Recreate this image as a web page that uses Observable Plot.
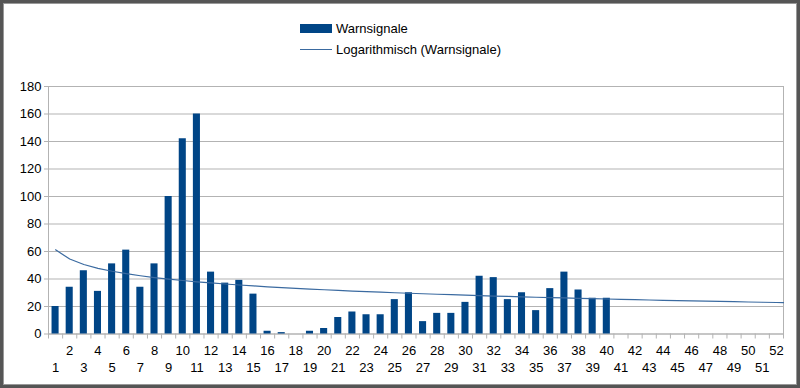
<!DOCTYPE html>
<html>
<head>
<meta charset="utf-8">
<script src="https://cdn.jsdelivr.net/npm/d3@7"></script>
<script src="https://cdn.jsdelivr.net/npm/@observablehq/plot@0.6"></script>
<style>
  html, body { margin: 0; padding: 0; background: #fff; }
  #wrap { position: relative; width: 800px; height: 388px; overflow: hidden; font-family: "Liberation Sans", Arial, sans-serif; }
  #legend { position: relative; width: 800px; height: 70px; }
  .sw-bar { position: absolute; left: 300px; top: 24px; width: 32px; height: 9px; background: #004586; }
  .sw-line { position: absolute; left: 300px; top: 49px; width: 32px; height: 1px; background: #3a6aa0; }
  .lt { position: absolute; left: 336px; font-size: 13px; color: #000; line-height: 13px; }
  #frame { position: absolute; left: 0; top: 0; width: 800px; height: 388px; box-sizing: border-box;
           border: 3px solid #555; box-shadow: inset 0 0 0 1px #999; pointer-events: none; }
  svg { display: block; }
</style>
</head>
<body>
<div id="wrap">
  <div id="legend">
    <div class="sw-bar"></div><div class="lt" style="top:22px">Warnsignale</div>
    <div class="sw-line"></div><div class="lt" style="top:43px">Logarithmisch (Warnsignale)</div>
  </div>
  <div id="chart"></div>
  <div id="frame"></div>
</div>
<script>
// Categories (calendar weeks)
const weeks = [1,2,3,4,5,6,7,8,9,10,11,12,13,14,15,16,17,18,19,20,21,22,23,24,25,26,
               27,28,29,30,31,32,33,34,35,36,37,38,39,40,41,42,43,44,45,46,47,48,49,50,51,52];
// Series values (weeks 1..40)
const warnsignale = [20,34,46,31,51,61,34,51,100,142,160,45,37,39,29,2,1,0,2,4,
                     12,16,14,14,25,30,9,15,15,23,42,41,25,30,17,33,45,32,26,26];
// Tick labels
const yTicks = [0,20,40,60,80,100,120,140,160,180];
const evenLabels = weeks.filter(w => w % 2 === 0);
const oddLabels = weeks.filter(w => w % 2 === 1);

const data = warnsignale.map((v, i) => ({week: weeks[i], value: v}));

// Logarithmic trend line (least squares fit y = a + b ln x), as the spreadsheet computes
const lx = data.map(d => Math.log(d.week));
const mx = d3.mean(lx), my = d3.mean(data, d => d.value);
const b = d3.sum(data, (d, i) => (lx[i] - mx) * (d.value - my)) / d3.sum(lx, v => (v - mx) ** 2);
const a = my - b * mx;
const trendX = weeks.concat([weeks[weeks.length - 1] + 0.5]);
const trend = trendX.map(w => ({week: w, value: a + b * Math.log(w)}));

const edges = weeks.map(w => w - 0.5).concat([weeks[weeks.length - 1] + 0.5]);

const chart = Plot.plot({
  width: 800,
  height: 318,
  marginTop: 16,
  marginBottom: 54.5,
  marginLeft: 48,
  marginRight: 17,
  style: {fontFamily: "Liberation Sans, Arial, sans-serif", fontSize: "13px", color: "#000", background: "transparent"},
  x: {domain: [0.5, 52.5], axis: null, label: null},
  y: {domain: [0, 180], axis: null, label: null},
  marks: [
    Plot.gridY(yTicks, {stroke: "#b3b3b3", strokeOpacity: 1}),
    Plot.frame({stroke: "#b3b3b3"}),
    Plot.axisY({ticks: yTicks, tickSize: 4, tickPadding: 3, stroke: "#b3b3b3", fontSize: 13, fill: "#000", anchor: "left", label: null}),
    Plot.axisX({ticks: edges, tickSize: 5, tickFormat: () => "", stroke: "#b3b3b3", anchor: "bottom", label: null}),
    Plot.axisX({ticks: evenLabels, tickSize: 0, tickPadding: 12, tickFormat: d => String(d), fontSize: 13, fill: "#000", anchor: "bottom", label: null}),
    Plot.axisX({ticks: oddLabels, tickSize: 0, tickPadding: 29, tickFormat: d => String(d), fontSize: 13, fill: "#000", anchor: "bottom", label: null}),
    Plot.rectY(data, {x1: d => d.week - 0.25, x2: d => d.week + 0.25, y1: 0, y2: "value", fill: "#004586"}),
    Plot.line(trend, {x: "week", y: "value", stroke: "#3a6aa0", strokeWidth: 1.2})
  ]
});
document.getElementById("chart").appendChild(chart);
</script>
</body>
</html>
